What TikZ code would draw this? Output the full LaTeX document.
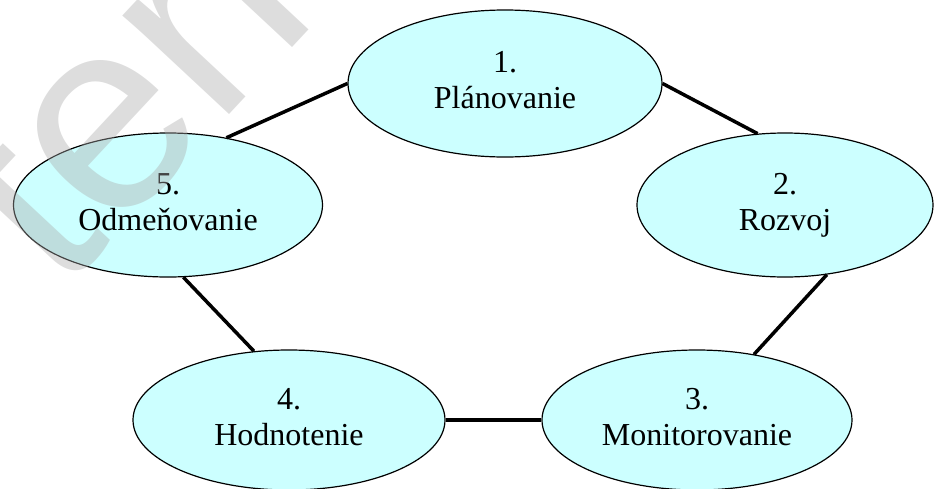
\documentclass[tikz,border=0pt]{standalone}
\usepackage{fontspec}
\setmainfont{Liberation Serif}
\newfontfamily\marksans{Liberation Sans}
\usetikzlibrary{shapes.geometric}

\definecolor{stagefill}{HTML}{CCFFFF}
\definecolor{markgrey}{HTML}{AAAAAA}

\tikzset{
  stage/.style={ellipse, draw=black, line width=1.2pt, fill=stagefill,
    inner sep=0pt, align=center,
    font=\fontsize{32}{36}\selectfont},
  link/.style={draw=black, line width=3.5pt},
  overlayword/.style={text=markgrey, opacity=0.4, inner sep=0pt,
    anchor=base west, font=\marksans\fontsize{275}{275}\selectfont}
}

\begin{document}
\begin{tikzpicture}[x=1pt,y=-1pt]
  \useasboundingbox (0,0) rectangle (938,488);

  % stages of the cycle
  \node[stage, minimum width=314pt, minimum height=147pt] (s1) at (505,83.5)
    {\strut 1.\\\strut Plánovanie};
  \node[stage, minimum width=296pt, minimum height=144pt] (s2) at (785,205)
    {\strut 2.\\\strut Rozvoj};
  \node[stage, minimum width=310pt, minimum height=140pt] (s3) at (697,420)
    {\strut 3.\\\strut Monitorovanie};
  \node[stage, minimum width=312pt, minimum height=140pt] (s4) at (289,420)
    {\strut 4.\\\strut Hodnotenie};
  \node[stage, minimum width=309pt, minimum height=144pt] (s5) at (168,205)
    {\strut 5.\\\strut Odmeňovanie};

  % connectors between consecutive stages
  \draw[link] (s1.0)   -- (s2.111);
  \draw[link] (s2.-59) -- (s3.49);
  \draw[link] (s3.180) -- (s4.0);
  \draw[link] (s4.117) -- (s5.-78);
  \draw[link] (s5.49)  -- (s1.180);

  % faint overlay lettering
  \node[overlayword, rotate=47] (wm) at (60,296) {tern};
\end{tikzpicture}
\end{document}
